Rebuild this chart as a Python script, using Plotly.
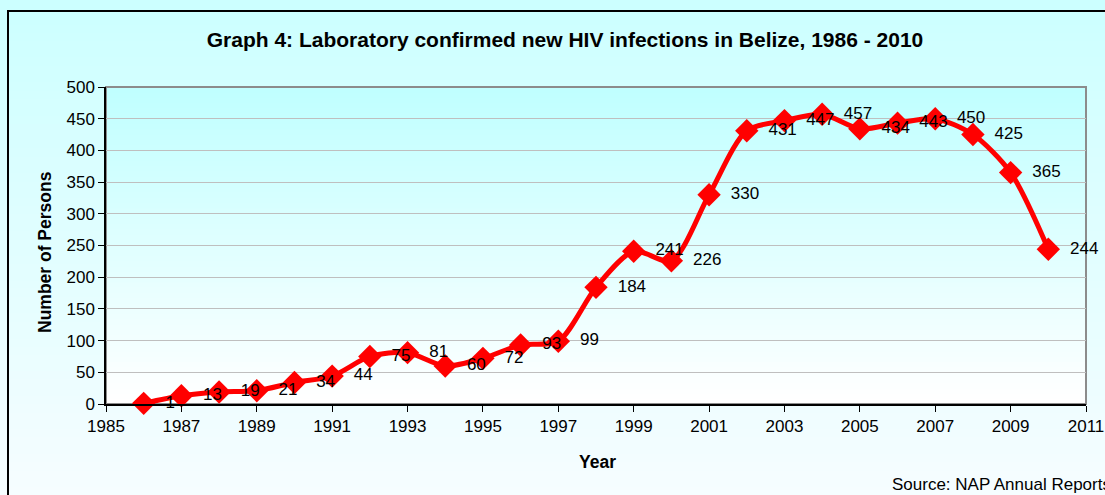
import plotly.graph_objects as go

years = list(range(1986, 2011))
persons = [1, 13, 19, 21, 34, 44, 75, 81, 60, 72, 93, 99, 184, 241, 226,
           330, 431, 447, 457, 434, 443, 450, 425, 365, 244]
x_ticks = list(range(1985, 2012, 2))
y_ticks = list(range(0, 501, 50))

W, H = 1105, 495
L, R, T, B = 106, 1086, 87, 404
pw, ph = R - L, B - T


def px_x(p):
    return (p - L) / pw


def px_y(p):
    return (B - p) / ph


def lerp(c1, c2, t):
    return "rgb(%d,%d,%d)" % tuple(round(a + (b - a) * t) for a, b in zip(c1, c2))


shapes = []
# outer gradient background
n = 60
top_c, bot_c = (204, 255, 255), (246, 253, 255)
for i in range(n):
    y0p = i * H / n
    y1p = (i + 1) * H / n + 1
    shapes.append(dict(type="rect", xref="paper", yref="paper",
                       x0=px_x(0), x1=px_x(W), y0=px_y(y1p), y1=px_y(y0p),
                       fillcolor=lerp(top_c, bot_c, i / (n - 1)), line=dict(width=0),
                       layer="below"))
# plot area gradient
ptop, pbot = (192, 255, 255), (255, 255, 255)
for i in range(n):
    y0p = T + i * ph / n
    y1p = min(T + (i + 1) * ph / n + 1, B)
    shapes.append(dict(type="rect", xref="paper", yref="paper",
                       x0=0, x1=1, y0=px_y(y1p), y1=px_y(y0p),
                       fillcolor=lerp(ptop, pbot, i / (n - 1)), line=dict(width=0),
                       layer="below"))
# plot frame (gray)
shapes.append(dict(type="rect", xref="paper", yref="paper", x0=0, x1=1, y0=0, y1=1,
                   line=dict(color="#8c8c8c", width=2), fillcolor="rgba(0,0,0,0)",
                   layer="below"))
# outer border
shapes.append(dict(type="rect", xref="paper", yref="paper",
                   x0=px_x(8), x1=px_x(W + 20), y0=px_y(W), y1=px_y(11),
                   line=dict(color="#000000", width=2), fillcolor="rgba(0,0,0,0)",
                   layer="above"))

fig = go.Figure()
fig.add_trace(go.Scatter(
    x=years, y=persons, mode="lines+markers+text",
    line=dict(color="#FF0000", width=5, shape="spline", smoothing=0.8),
    marker=dict(symbol="diamond", size=18, color="#FF0000"),
    text=[str(v) for v in persons],
    texttemplate="\u00a0\u00a0%{text}",
    textposition="middle right",
    textfont=dict(family="Liberation Sans, Arial", size=17, color="#000000"),
    cliponaxis=False, showlegend=False,
))

axis_font = dict(family="Liberation Sans, Arial", size=17, color="#000000")
fig.update_layout(
    width=W, height=H,
    margin=dict(l=L, r=W - R, t=T, b=H - B, autoexpand=False),
    paper_bgcolor="#ffffff",
    plot_bgcolor="rgba(0,0,0,0)",
    title=dict(text="<b>Graph 4: Laboratory confirmed new HIV infections in Belize, 1986 - 2010</b>",
               x=565 / W, xanchor="center", y=1 - 40 / H, yanchor="middle",
               font=dict(family="Liberation Sans, Arial", size=21, color="#000000")),
    xaxis=dict(range=[1985, 2011], tickvals=x_ticks, ticktext=[str(v) for v in x_ticks],
               showgrid=False, zeroline=False, showline=True, linecolor="#000000",
               linewidth=1.5, ticks="outside", ticklen=6, tickcolor="#000000",
               tickfont=axis_font, automargin=False),
    yaxis=dict(range=[0, 500], tickvals=y_ticks, showgrid=True, gridcolor="#bfbfbf",
               gridwidth=1, zeroline=False, showline=True, linecolor="#000000",
               linewidth=1.5, ticks="outside", ticklen=6, tickcolor="#000000",
               tickfont=axis_font, automargin=False),
    shapes=shapes,
    annotations=[
        dict(text="<b>Number of Persons</b>", xref="paper", yref="paper",
             x=px_x(45), y=px_y(252), textangle=-90, showarrow=False,
             xanchor="center", yanchor="middle",
             font=dict(family="Liberation Sans, Arial", size=17.5, color="#000000")),
        dict(text="<b>Year</b>", xref="paper", yref="paper",
             x=px_x(597), y=px_y(462), showarrow=False,
             xanchor="center", yanchor="middle",
             font=dict(family="Liberation Sans, Arial", size=17.5, color="#000000")),
        dict(text="Source: NAP Annual Reports", xref="paper", yref="paper",
             x=px_x(890), y=px_y(484), showarrow=False,
             xanchor="left", yanchor="middle",
             font=dict(family="Liberation Sans, Arial", size=17, color="#000000")),
    ],
)

fig.write_html("out.html", config={"displayModeBar": False},
               post_script="document.body.style.margin='0px';document.body.style.overflow='hidden';")
